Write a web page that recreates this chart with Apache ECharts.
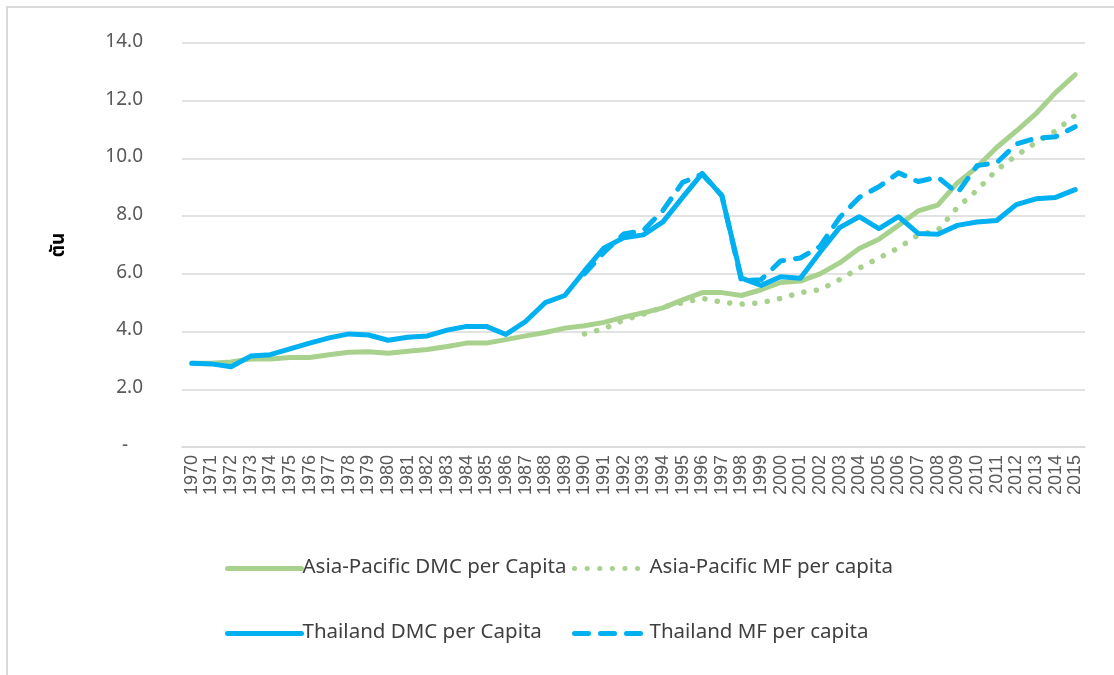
<!DOCTYPE html>
<html>
<head>
<meta charset="utf-8">
<script src="https://cdn.jsdelivr.net/npm/echarts@6/dist/echarts.min.js"></script>
<style>
html,body{margin:0;padding:0;background:#fff;}
#chart{width:1114px;height:675px;}
</style>
</head>
<body>
<div id="chart"></div>
<script>
const years = ['1970','1971','1972','1973','1974','1975','1976','1977','1978','1979','1980','1981','1982','1983','1984','1985','1986','1987','1988','1989','1990','1991','1992','1993','1994','1995','1996','1997','1998','1999','2000','2001','2002','2003','2004','2005','2006','2007','2008','2009','2010','2011','2012','2013','2014','2015'];

const apDMC = [2.9,2.9,2.95,3.05,3.05,3.1,3.1,3.2,3.28,3.3,3.25,3.32,3.38,3.48,3.6,3.6,3.72,3.85,3.97,4.12,4.2,4.32,4.5,4.65,4.82,5.1,5.35,5.35,5.25,5.45,5.7,5.75,6.0,6.38,6.88,7.2,7.68,8.18,8.38,9.15,9.7,10.38,10.95,11.55,12.28,12.9];

const apMF = [null,null,null,null,null,null,null,null,null,null,null,null,null,null,null,null,null,null,null,null,3.92,4.1,4.4,4.6,4.85,5.0,5.15,5.02,4.95,5.0,5.15,5.35,5.45,5.8,6.2,6.55,6.9,7.35,7.5,8.3,8.9,9.6,10.1,10.55,10.95,11.5];

const thDMC = [2.9,2.88,2.78,3.15,3.2,3.4,3.6,3.78,3.92,3.88,3.7,3.8,3.85,4.05,4.18,4.18,3.9,4.35,5.0,5.25,6.1,6.9,7.25,7.35,7.8,8.65,9.48,8.7,5.85,5.6,5.9,5.85,6.75,7.6,7.98,7.57,7.98,7.4,7.37,7.68,7.8,7.85,8.4,8.6,8.65,8.92];

const thMF = [null,null,null,null,null,null,null,null,null,null,null,null,null,null,null,null,null,null,null,null,6.0,6.75,7.38,7.5,8.2,9.17,9.45,8.72,5.75,5.8,6.45,6.55,6.95,7.95,8.65,9.02,9.5,9.2,9.35,8.8,9.75,9.85,10.5,10.7,10.75,11.1];

const yTicks = [0,2,4,6,8,10,12,14];
const yTitle = 'ตัน';
const names = ['Asia-Pacific DMC per Capita','Asia-Pacific MF per capita','Thailand DMC per Capita','Thailand MF per capita'];

const green = '#A9D18E';
const blue = '#00B0F0';
const FONT = "'Noto Sans Thai','Open Sans','Noto Sans',sans-serif";

const chart = echarts.init(document.getElementById('chart'));

const lineTypes = ['solid',[0.1,12.5],'solid',[14,12]];
const colors = [green,green,blue,blue];

function legendAt(i, left, top){
  return {
    data:[names[i]], left:left, top:top, orient:'horizontal',
    itemWidth:74, itemHeight:10, itemGap:0, padding:0,
    itemStyle:{opacity:0},
    lineStyle:{width:5, type:lineTypes[i], cap:'round', color:colors[i]},
    textStyle:{fontFamily:FONT, fontSize:20.5, color:'#404040', padding:[0,0,0,-4]}
  };
}

chart.setOption({
  backgroundColor:'#fff',
  animation:false,
  graphic:[{
    type:'rect', shape:{x:7,y:7,width:1300,height:900},
    style:{fill:'none', stroke:'#d9d9d9', lineWidth:2}, silent:true
  }],
  grid:{left:182, right:29, top:43, bottom:228},
  legend:[
    legendAt(0,225,558),
    legendAt(1,572,558),
    legendAt(2,225,623),
    legendAt(3,572,623)
  ],
  xAxis:{
    type:'category', data:years, boundaryGap:true,
    axisLine:{show:true, lineStyle:{color:'#d9d9d9', width:1.5}},
    axisTick:{show:false},
    axisLabel:{rotate:90, interval:0, fontFamily:"'Liberation Sans',Arial,sans-serif", fontSize:18, color:'#595959', margin:8}
  },
  yAxis:{
    type:'value', min:0, max:14, interval:2,
    name:yTitle, nameLocation:'middle', nameGap:112, nameRotate:90,
    nameTextStyle:{fontFamily:FONT, fontSize:19, fontWeight:'bold', color:'#000'},
    axisLine:{show:false}, axisTick:{show:false},
    splitLine:{lineStyle:{color:'#d9d9d9', width:1.5}},
    axisLabel:{
      fontFamily:FONT, fontSize:19, color:'#595959', margin:39,
      formatter:function(v){ return yTicks.indexOf(v)>=0 ? (v===0 ? '-   ' : v.toFixed(1)) : ''; }
    }
  },
  series:[
    {name:names[0], type:'line', data:apDMC, symbol:'none', showSymbol:false,
      lineStyle:{color:green, width:5, cap:'round', join:'round'}, itemStyle:{color:green}},
    {name:names[1], type:'line', data:apMF, symbol:'none', showSymbol:false,
      lineStyle:{color:green, width:5.5, type:[0.1,12.5], cap:'round', join:'round'}, itemStyle:{color:green}},
    {name:names[2], type:'line', data:thDMC, symbol:'none', showSymbol:false,
      lineStyle:{color:blue, width:5, cap:'round', join:'round'}, itemStyle:{color:blue}},
    {name:names[3], type:'line', data:thMF, symbol:'none', showSymbol:false,
      lineStyle:{color:blue, width:5, type:[14,12], cap:'round', join:'round'}, itemStyle:{color:blue}}
  ]
});
</script>
</body>
</html>
